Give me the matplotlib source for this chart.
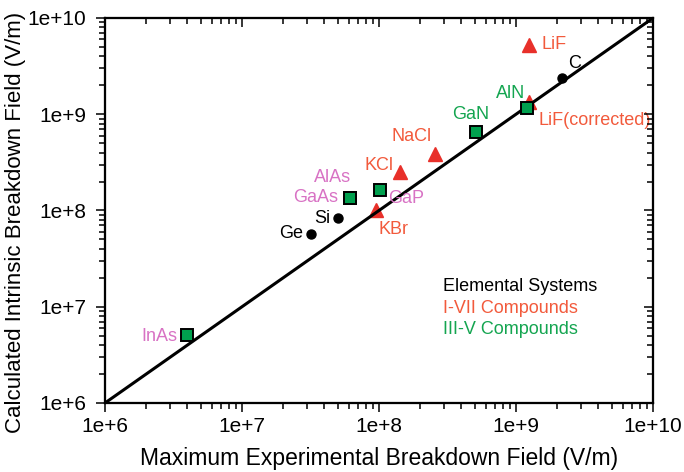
import matplotlib
matplotlib.use("Agg")
import matplotlib.pyplot as plt
from matplotlib.ticker import LogLocator, FuncFormatter, NullFormatter
import numpy as np

plt.rcParams['font.family'] = ['Liberation Sans', 'DejaVu Sans']

# Elemental systems
elem_names = ["Ge", "Si", "C"]
elem_exp = [3.2e7, 5.0e7, 2.15e9]
elem_calc = [5.7e7, 8.3e7, 2.4e9]

# I-VII compounds
i7_names = ["KBr", "KCl", "NaCl", "LiF", "LiF(corrected)"]
i7_exp = [9.5e7, 1.42e8, 2.55e8, 1.25e9, 1.25e9]
i7_calc = [1.0e8, 2.5e8, 3.9e8, 5.2e9, 1.35e9]

# III-V compounds
iii5_names = ["InAs", "GaAs", "AlAs", "GaP", "GaN", "AlN"]
iii5_exp = [4.0e6, 6.1e7, 6.1e7, 1.02e8, 5.1e8, 1.2e9]
iii5_calc = [5.1e6, 1.36e8, 1.36e8, 1.63e8, 6.5e8, 1.15e9]

lims = [1e6, 1e10]

RED = "#e8302a"
ORANGE = "#f25a3c"
PINK = "#d872c4"
GREEN_FILL = "#00a04e"
GREEN_TXT = "#14a550"

# label offsets (points) and alignment
offsets = {
    "Ge": (-5.8, 0, "right"),
    "Si": (-5.0, 0, "right"),
    "C": (4.5, 10.5, "left"),
    "KBr": (1.5, -13.7, "left"),
    "KCl": (-4.5, 5.0, "right"),
    "NaCl": (-16.8, 12.0, "center"),
    "LiF": (8.5, 0.7, "left"),
    "LiF(corrected)": (6.5, -13.5, "left"),
    "InAs": (-7.0, -1.0, "right"),
    "GaAs": (-8.0, 0, "right"),
    "AlAs": (-12.0, 14.4, "center"),
    "GaP": (5.8, -6.0, "left"),
    "GaN": (-4.0, 13.0, "center"),
    "AlN": (-11.5, 10.8, "center"),
}
label_colors = {"Ge": "black", "Si": "black", "C": "black",
                "KBr": ORANGE, "KCl": ORANGE, "NaCl": ORANGE, "LiF": ORANGE,
                "LiF(corrected)": ORANGE,
                "InAs": PINK, "GaAs": PINK, "AlAs": PINK, "GaP": PINK,
                "GaN": GREEN_TXT, "AlN": GREEN_TXT}

fig = plt.figure(figsize=(6.84, 4.72), dpi=100)
ax = fig.add_axes([0.1535, 0.1462, 0.8012, 0.8157])

ax.plot(lims, lims, color="black", lw=2.2, zorder=2)
ax.plot(elem_exp, elem_calc, "o", color="black", ms=6.5, zorder=3)
ax.plot(i7_exp, i7_calc, "^", color=RED, ms=10, mec=RED, zorder=1)
ax.plot(iii5_exp, iii5_calc, "s", mfc=GREEN_FILL, mec="black", mew=1.4,
        ms=8, zorder=3)

for names, xs, ys in [(elem_names, elem_exp, elem_calc),
                      (i7_names, i7_exp, i7_calc),
                      (iii5_names, iii5_exp, iii5_calc)]:
    for n, x, y in zip(names, xs, ys):
        dx, dy, ha = offsets[n]
        ax.annotate(n, (x, y), xytext=(dx, dy), textcoords="offset points",
                    ha=ha, va="center", fontsize=13, color=label_colors[n])

ax.text(0.617, 0.302, "Elemental Systems", transform=ax.transAxes,
        fontsize=13, color="black", va="center")
ax.text(0.617, 0.246, "I-VII Compounds", transform=ax.transAxes,
        fontsize=13, color=ORANGE, va="center")
ax.text(0.617, 0.190, "III-V Compounds", transform=ax.transAxes,
        fontsize=13, color=GREEN_TXT, va="center")

ax.set_xscale("log")
ax.set_yscale("log")
ax.set_xlim(lims)
ax.set_ylim(lims)

fmt = FuncFormatter(lambda v, p: "1e+%d" % int(round(np.log10(v))))
for axis in (ax.xaxis, ax.yaxis):
    axis.set_major_locator(LogLocator(base=10, numticks=10))
    axis.set_minor_locator(LogLocator(base=10, subs=np.arange(2, 10), numticks=20))
    axis.set_major_formatter(fmt)
    axis.set_minor_formatter(NullFormatter())

ax.tick_params(which="both", direction="out", top=False, right=False,
               labelsize=15, width=1.1)
ax.tick_params(which="major", length=6.5)
ax.tick_params(which="minor", length=4.3)
ax.tick_params(axis="x", pad=3.5)
ax.tick_params(axis="y", pad=7)

# top and right ticks point inward
axt = ax.twiny()
axt.set_xscale("log")
axt.set_xlim(lims)
axr = ax.twinx()
axr.set_yscale("log")
axr.set_ylim(lims)
for tw, axis in ((axt, axt.xaxis), (axr, axr.yaxis)):
    axis.set_major_locator(LogLocator(base=10, numticks=10))
    axis.set_minor_locator(LogLocator(base=10, subs=np.arange(2, 10), numticks=20))
    axis.set_major_formatter(NullFormatter())
    axis.set_minor_formatter(NullFormatter())
    tw.tick_params(which="both", direction="in", width=1.1)
    tw.tick_params(which="major", length=6.5)
    tw.tick_params(which="minor", length=4.3)

for a in (ax, axt, axr):
    for s in a.spines.values():
        s.set_linewidth(1.5)

ax.set_xlabel("Maximum Experimental Breakdown Field (V/m)", fontsize=16.5)
ax.set_ylabel("Calculated Intrinsic Breakdown Field (V/m)", fontsize=16)
ax.xaxis.set_label_coords(0.5, -0.115)
ax.yaxis.set_label_coords(-0.145, 0.47)

fig.savefig("out.png", dpi=100)
